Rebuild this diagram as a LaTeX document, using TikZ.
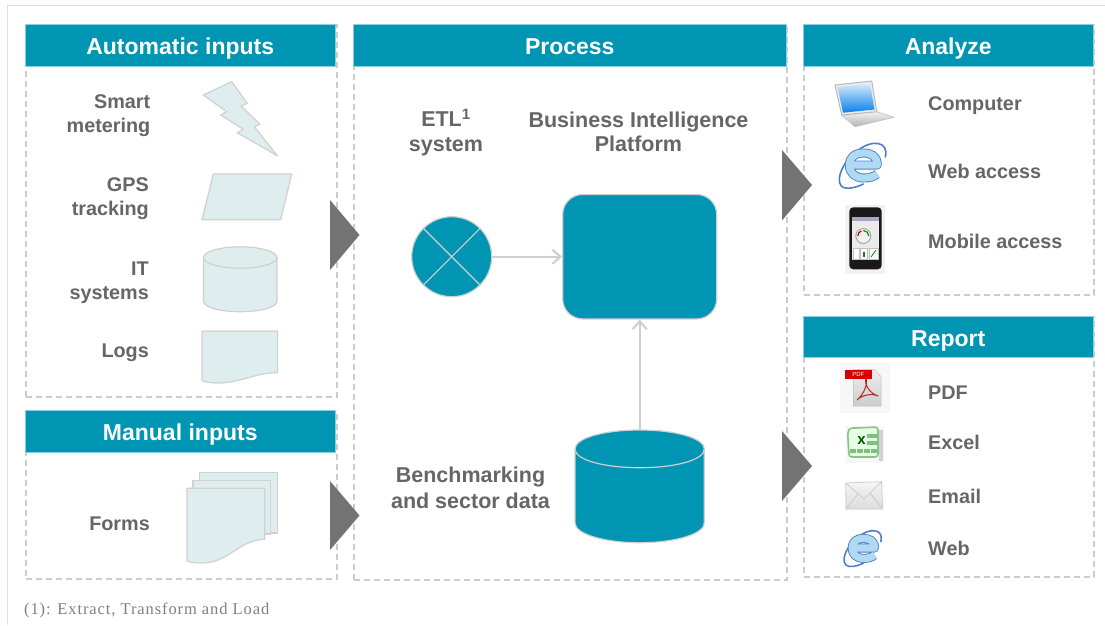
\documentclass[tikz,border=0pt]{standalone}
\usepackage{fontspec}
\setmainfont{Liberation Sans}
\newfontfamily\notefont[LetterSpace=5.5]{Liberation Serif}
\usetikzlibrary{arrows.meta}
\definecolor{teal1}{HTML}{0095B2}
\definecolor{shapefill}{HTML}{DEEDED}
\definecolor{shapeline}{HTML}{D0D0D0}
\definecolor{txt}{HTML}{666666}
\definecolor{tri}{HTML}{737373}
\definecolor{dashc}{HTML}{CCCCCC}
\definecolor{iedark}{HTML}{4F7FC4}
\definecolor{ielight}{HTML}{B0DAF4}
\definecolor{screentop}{HTML}{D5ECFB}
\definecolor{screenbot}{HTML}{0A7FEE}
\tikzset{
  panel/.style={draw=dashc,line width=1.6pt,dash pattern=on 6pt off 4pt,inner sep=0pt,anchor=north west},
  header/.style={fill=teal1,draw=teal1!45,line width=.5pt,text=white,inner sep=0pt,font=\bfseries\fontsize{23}{27}\selectfont,anchor=north west,text height=25pt,text depth=6pt},
  lbl/.style={text=txt,inner sep=0pt,font=\bfseries\fontsize{19.8}{24}\selectfont},
  lblr/.style={lbl,anchor=east,align=right},
  lbll/.style={lbl,anchor=west,align=left},
  lblc/.style={lbl,align=center,font=\bfseries\fontsize{21.5}{24.5}\selectfont},
  flow/.style={fill=shapefill,draw=shapeline,line width=1.2pt,line join=round},
  solid teal/.style={fill=teal1,draw=shapeline,line width=1.2pt},
  chevron/.style={fill=tri,draw=none},
  conn/.style={draw=shapeline,line width=1.8pt,-{Straight Barb[length=8pt,width=14pt,line width=2.2pt]}},
  ieicon/.pic={
    \draw[iedark,line width=1.6pt,line cap=round] (22,-8) .. controls (26,-24) and (8,-26) .. (-6,-14) .. controls (-20,-4) and (-28,14) .. (-22,21) .. controls (-18,25) and (-8,23) .. (0,19);
    \draw[iedark,line width=9pt,line join=round] (-12,0) -- (14,0) .. controls (14,-9) and (8,-12) .. (0,-12) .. controls (-9,-12) and (-14,-7) .. (-14,0) .. controls (-14,8) and (-8,13) .. (0,13) .. controls (6,13) and (10,12) .. (14,9);
    \draw[ielight,line width=7.2pt,line join=round] (-12,0) -- (14,0) .. controls (14,-9) and (8,-12) .. (0,-12) .. controls (-9,-12) and (-14,-7) .. (-14,0) .. controls (-14,8) and (-8,13) .. (0,13) .. controls (6,13) and (10,12) .. (14,9);
  }
}
\begin{document}
\begin{tikzpicture}[x=1pt,y=-1pt]
\useasboundingbox (0,0) rectangle (1105,625);
\fill[white] (0,0) rectangle (1105,625);
\draw[draw=black!12,line width=1pt] (7,625) -- (7,5) -- (1105,5);

% panels
\node[panel,minimum width=311pt,minimum height=372pt] (autobox) at (25,24) {};
\node[panel,minimum width=311pt,minimum height=168.5pt] (manbox) at (25,409.5) {};
\node[panel,minimum width=433pt,minimum height=555pt] (procbox) at (353,24) {};
\node[panel,minimum width=290pt,minimum height=270pt] (anabox) at (803,24) {};
\node[panel,minimum width=290pt,minimum height=260pt] (repbox) at (803,316) {};
\node[header,minimum width=310pt,minimum height=42pt] (autohead) at (25,24) {Automatic inputs};
\node[header,minimum width=310pt,minimum height=42pt] (manhead) at (25,409.5) {Manual inputs};
\node[header,minimum width=433pt,minimum height=42pt] (prochead) at (353,24) {Process};
\node[header,minimum width=290pt,minimum height=42pt] (anahead) at (803,24) {Analyze};
\node[header,minimum width=290pt,minimum height=41pt] (rephead) at (803,316) {Report};

% chevrons
\fill[chevron] (330,200) -- (359.5,235) -- (330,270) -- cycle;
\fill[chevron] (330,481) -- (359.5,515.5) -- (330,550) -- cycle;
\fill[chevron] (782,150) -- (812,185) -- (782,220.5) -- cycle;
\fill[chevron] (782,431) -- (812,466) -- (782,501) -- cycle;

% input labels
\node[lblr] (smart) at (150.5,115.5) {Smart\\metering};
\node[lblr] (gps) at (149,199) {GPS\\tracking};
\node[lblr] (its) at (149,282.5) {IT\\systems};
\node[lblr] (logs) at (149,353) {Logs};
\node[lblr] (forms) at (150,524) {Forms};

% input shapes
\draw[flow] (203.3,95) -- (231.7,81.7) -- (247.3,103.3) -- (241,106) -- (260,124.3) -- (254.3,126.7) -- (277.3,155.7) -- (237.3,132.7) -- (243.3,129.3) -- (220.7,115) -- (226.7,111.7) -- cycle;
\draw[flow] (213.3,174) -- (291.7,174) -- (280.7,219.7) -- (202,219.7) -- cycle;
\draw[flow] (203.5,257.5) -- (203.5,301) .. controls (203.5,307.5) and (220,311.7) .. (240.2,311.7) .. controls (260.5,311.7) and (277,307.5) .. (277,301) -- (277,257.5);
\draw[flow] (240.25,257.5) ellipse (36.75 and 10.7);
\draw[flow] (202,331) -- (277.5,331) -- (277.5,372.7) .. controls (255,372.7) and (240,383) .. (218,383) .. controls (210,383) and (205,382) .. (202,380.5) -- cycle;
\draw[flow] (199.3,472.7) -- (277.3,472.7) -- (277.3,533) -- (199.3,533) -- cycle;
\draw[flow] (193,480.7) -- (270.7,480.7) -- (270.7,534) -- (193,534) -- cycle;
\draw[flow] (187,488.3) -- (264.7,488.3) -- (264.7,539.3) .. controls (240,539.3) and (228,563) .. (203,563) .. controls (196,563) and (190,562.5) .. (187,561) -- cycle;

% process
\node[lblc] (etl) at (446,132.5) {ETL\textsuperscript{1}\\system};
\node[lblc] (bilabel) at (638.5,132) {Business Intelligence\\Platform};
\node[lblc,font=\bfseries\fontsize{21.5}{26}\selectfont] (bench) at (470.5,488) {Benchmarking\\and sector data};
\node[circle,solid teal,minimum size=80pt,inner sep=0pt] (etlc) at (451.7,256.7) {};
\draw[shapeline,line width=1.1pt] (etlc.45) -- (etlc.225) (etlc.135) -- (etlc.315);
\node[rectangle,rounded corners=20pt,solid teal,minimum width=154pt,minimum height=124.5pt,inner sep=0pt] (bi) at (639.7,256.7) {};
\node[inner sep=0pt,minimum width=129.3pt,minimum height=112.7pt] (db) at (639.7,486.3) {};
\draw[solid teal] (575,449) -- (575,523) .. controls (575,534) and (604,542.7) .. (639.7,542.7) .. controls (675.4,542.7) and (704.3,534) .. (704.3,523) -- (704.3,449) .. controls (704.3,438) and (675.4,430) .. (639.7,430) .. controls (604,430) and (575,438) .. (575,449) -- cycle;
\draw[shapeline,line width=1.2pt] (575,449) .. controls (575,460) and (604,467.7) .. (639.7,467.7) .. controls (675.4,467.7) and (704.3,460) .. (704.3,449);
\draw[conn] (etlc.east) -- (bi.west);
\draw[conn] (db.north) -- (bi.south);

% analyze labels
\node[lbll] (computer) at (928,105.5) {Computer};
\node[lbll] (webacc) at (928,171.5) {Web access};
\node[lbll] (mobile) at (928,241.5) {Mobile access};
% report labels
\node[lbll] (pdf) at (928,392.5) {PDF};
\node[lbll] (excel) at (928,442.3) {Excel};
\node[lbll] (email) at (928,496.5) {Email};
\node[lbll] (web) at (928,548.5) {Web};

% laptop
\draw[black!25,line width=.6pt,top color=black!5,bottom color=black!30,line join=round] (841.7,115) -- (876.7,111.7) -- (894,117.3) -- (855,126.7) -- cycle;
\draw[black!28,line width=1pt,fill=black!7,line join=round] (835,85) -- (871.7,81) -- (876.7,111.7) -- (841.7,115) -- cycle;
\shade[top color=screentop,bottom color=screenbot] (837.5,87) -- (870,83.5) -- (874.5,109.5) -- (843,112.7) -- cycle;

% ie icons
\pic (ieone) at (863.3,165) {ieicon};
\pic[scale=.8] (ietwo) at (863.3,548) {ieicon};

% phone
\fill[black!5] (845,205) rectangle (885,274);
\fill[black!90,rounded corners=4pt] (849.3,207.3) rectangle (881.7,269.3);
\fill[black!8] (852.3,216.7) rectangle (879.3,260);
\fill[blue!35!black!35] (852.3,216.7) rectangle (879.3,221);
\draw[black!35,line width=1pt,fill=black!5] (863.3,236) circle (7.5);
\draw[green!60!black,line width=1.2pt] (863.3,230.5) arc (-90:0:5.5);
\draw[red!75!black,line width=1.2pt] (857.8,236) arc (180:250:5.5);
\fill[white,draw=black!25,line width=.3pt] (853.5,248) rectangle (859,259);
\fill[white,draw=black!25,line width=.3pt] (860.5,248) rectangle (867,259);
\fill[white,draw=black!25,line width=.3pt] (869,248) rectangle (878,259);
\fill[green!55!black] (863,252) rectangle (865,257);
\draw[green!55!black,line width=.8pt] (871,257) -- (876,250);

% pdf icon
\fill[black!3] (840,363) rectangle (890,412.7);
\shade[top color=black!6,bottom color=black!20,draw=black!25,line width=.5pt,line join=round] (853.3,369.3) -- (874,369.3) -- (881,376.5) -- (881,406) -- (853.3,406) -- cycle;
\draw[red!65!black!85,line width=1pt,line join=round] (857,400) .. controls (864,394) and (868,384) .. (866,378) .. controls (864,384) and (869,393) .. (878,396) .. controls (871,393) and (862,395) .. (857,400);
\node[fill=red!85!black,text=white,inner sep=0pt,minimum width=26.7pt,minimum height=9.3pt,font=\fontsize{6}{7}\selectfont] (pdftag) at (858.4,374.7) {PDF};

% excel icon
\fill[black!3] (845.5,425.5) rectangle (884,463);
\draw[green!45!black!45,line width=1.6pt,fill=green!10,rounded corners=3pt] (847.7,433) .. controls (849,429) and (852,428) .. (856,428) -- (878,427) -- (878,457) -- (849,457) -- cycle;
\fill[black!18] (879,430) rectangle (882.5,460.5);
\node[text=green!35!black,inner sep=0pt,font=\bfseries\fontsize{15}{15}\selectfont] (xmark) at (861.5,441) {x};
\foreach \cx/\cy in {870/436,876/436,870/443,876/443,853/451,860/451,867/451,874/451}{
  \fill[green!50!black!50] (\cx-2.6,\cy-2.2) rectangle (\cx+2.6,\cy+2.2);
}

% envelope
\fill[black!2] (844.5,480.5) rectangle (884,511);
\draw[black!18,line width=.8pt,top color=black!4,bottom color=violet!18!black!14,line join=round] (845.7,483) -- (881.5,481.7) -- (882.7,509) -- (846,509) -- cycle;
\draw[black!20,line width=.8pt] (845.7,483) -- (864,499) -- (881.5,481.7) (846,509) -- (858,494) (882.7,509) -- (870,493);

% note
\node[anchor=west,inner sep=0pt,text=black!50,font=\notefont\fontsize{16.5}{18}\selectfont] (note) at (24,610) {(1): Extract, Transform and Load};
\end{tikzpicture}
\end{document}
